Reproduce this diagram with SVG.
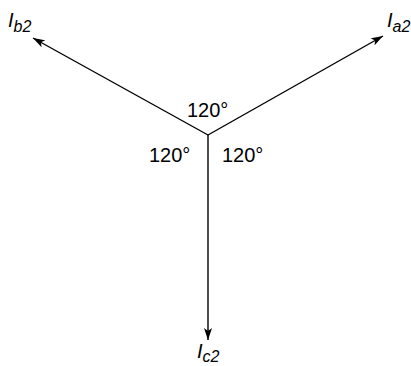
<svg xmlns="http://www.w3.org/2000/svg" width="411" height="366" viewBox="0 0 411 366">
<style>
.c{stroke:#000;stroke-width:1.4;fill:none}
.t{font-family:"Liberation Sans",Arial,sans-serif;font-size:20px;fill:#000}
.i{font-style:italic}
.s{font-size:16px}
</style>
<defs>
<marker id="ah" viewBox="0 0 12 8" refX="12" refY="4" markerWidth="12" markerHeight="8" markerUnits="userSpaceOnUse" orient="auto">
<path d="M0,0 L12,4 L0,8 L3,4 Z" fill="#000"/>
</marker>
</defs>
<rect width="411" height="366" fill="#fff"/>
<g id="connectors">
<line class="c" x1="208" y1="135" x2="33" y2="38" marker-end="url(#ah)"/>
<line class="c" x1="208" y1="135" x2="383" y2="36" marker-end="url(#ah)"/>
<line class="c" x1="208" y1="135" x2="208" y2="340" marker-end="url(#ah)"/>
</g>
<g id="Ib2"><text class="t i" x="8" y="27">I<tspan class="s" dy="5">b2</tspan></text></g>
<g id="Ia2"><text class="t i" x="387" y="27">I<tspan class="s" dy="5">a2</tspan></text></g>
<g id="Ic2"><text class="t i" x="197" y="358">I<tspan class="s" dy="4">c2</tspan></text></g>
<g id="angles">
<text class="t" x="187" y="117">120°</text>
<text class="t" x="149" y="162">120°</text>
<text class="t" x="222" y="162">120°</text>
</g>
</svg>
